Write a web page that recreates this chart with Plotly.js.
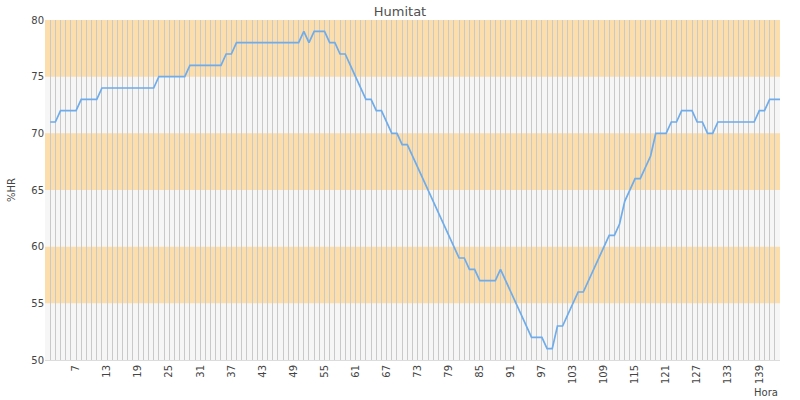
<!DOCTYPE html>
<html>
<head>
<meta charset="utf-8">
<script src="https://cdn.plot.ly/plotly-3.0.1.min.js"></script>
<style>html,body{margin:0;padding:0;background:#fff;}#chart{width:800px;height:400px;}</style>
</head>
<body>
<div id="chart"></div>
<script>
// Hours (x categories)
const hora = [2,3,4,5,6,7,8,9,10,11,12,13,14,15,16,17,18,19,20,21,22,23,24,25,26,27,28,29,30,31,
  32,33,34,35,36,37,38,39,40,41,42,43,44,45,46,47,48,49,50,51,52,53,54,55,56,57,58,59,60,61,
  62,63,64,65,66,67,68,69,70,71,72,73,74,75,76,77,78,79,80,81,82,83,84,85,86,87,88,89,90,91,
  92,93,94,95,96,97,98,99,100,101,102,103,104,105,106,107,108,109,110,111,112,113,114,115,116,117,118,119,120,121,
  122,123,124,125,126,127,128,129,130,131,132,133,134,135,136,137,138,139,140,141,142,143];
// Relative humidity (%HR)
const humitat = [71,71,72,72,72,72,73,73,73,73,74,74,74,74,74,74,74,74,74,74,74,75,75,75,75,75,75,76,76,76,
  76,76,76,76,77,77,78,78,78,78,78,78,78,78,78,78,78,78,78,79,78,79,79,79,78,78,77,77,76,75,
  74,73,73,72,72,71,70,70,69,69,68,67,66,65,64,63,62,61,60,59,59,58,58,57,57,57,57,58,57,56,
  55,54,53,52,52,52,51,51,53,53,54,55,56,56,57,58,59,60,61,61,62,64,65,66,66,67,68,70,70,70,
  71,71,72,72,72,71,71,70,70,71,71,71,71,71,71,71,71,72,72,73,73,73];
// Axis tick labels
const xTickVals = [7,13,19,25,31,37,43,49,55,61,67,73,79,85,91,97,103,109,115,121,127,133,139];
const yTickVals = [50,55,60,65,70,75,80];
// Shaded bands (y ranges)
const bandLow  = [55,65,75];
const bandHigh = [60,70,80];

const shapes = bandLow.map((lo,i)=>({
  type:'rect', xref:'paper', yref:'y', x0:0, x1:1, y0:lo, y1:bandHigh[i],
  fillcolor:'rgb(252,221,172)', line:{width:0}, layer:'below'
}));

const trace = {
  x: hora, y: humitat, type:'scatter', mode:'lines',
  line:{color:'rgb(110,172,236)', width:1.7},
  hoverinfo:'x+y'
};

const fam = '"DejaVu Sans", Verdana, sans-serif';

const layout = {
  width:800, height:400,
  margin:{l:45, r:20, t:20, b:40},
  paper_bgcolor:'#ffffff',
  plot_bgcolor:'#f6f6f6',
  font:{family:fam, color:'#444', size:10},
  showlegend:false,
  title:{text:'Humitat', x:0.5, xanchor:'center', y:0.983, yanchor:'top',
         font:{family:fam, size:13, color:'#505050'}},
  xaxis:{
    range:[1,143], tickmode:'array', tickvals:xTickVals, ticktext:xTickVals.map(String),
    tickangle:-90, ticks:'', showgrid:true, gridcolor:'#c9c9c9', gridwidth:1,
    minor:{dtick:1, tick0:0, showgrid:true, gridcolor:'#c9c9c9', gridwidth:1, ticks:''},
    showline:true, linecolor:'#dcdcdc', linewidth:1, zeroline:false,
    tickfont:{family:fam, size:10, color:'#444'}
  },
  yaxis:{
    range:[50,80], tickmode:'array', tickvals:yTickVals, ticks:'', showgrid:false,
    zeroline:false, showline:false,
    title:{text:'%HR', standoff:13, font:{family:fam, size:10, color:'#444'}},
    tickfont:{family:fam, size:10, color:'#444'}
  },
  shapes: shapes,
  annotations:[{text:'Hora', xref:'paper', yref:'paper', x:1.0, y:-0.073, xanchor:'right', yanchor:'top',
    showarrow:false, font:{family:fam, size:10, color:'#444'}}]
};

Plotly.newPlot('chart', [trace], layout, {displayModeBar:false, staticPlot:true});
</script>
</body>
</html>
